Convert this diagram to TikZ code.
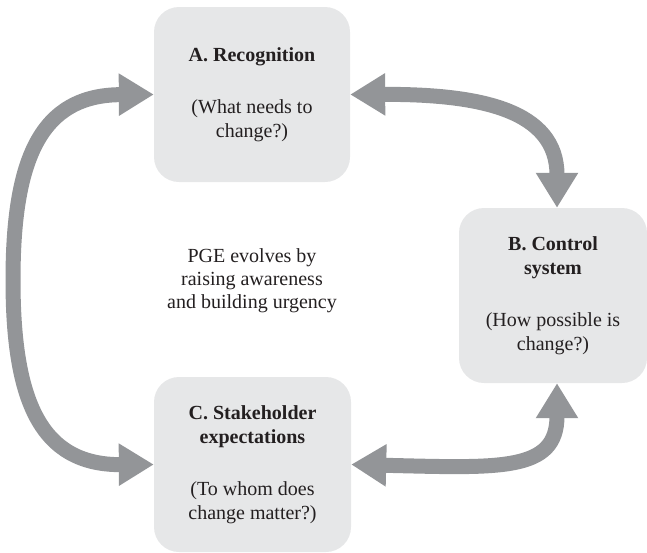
\documentclass[tikz,border=0pt]{standalone}
\usepackage{fontspec}
\setmainfont{Liberation Serif}
\usetikzlibrary{arrows.meta}
\definecolor{boxfill}{HTML}{E6E7E8}
\definecolor{arrowgray}{HTML}{939598}
\definecolor{txt}{HTML}{231F20}
\begin{document}
\begin{tikzpicture}[x=1pt,y=-1pt,
  stage/.style={draw=none, fill=boxfill, rounded corners=25pt, minimum height=175pt,
    align=center, text=txt, font=\fontsize{20}{24}\selectfont, inner sep=0pt},
  midtext/.style={align=center, text=txt, font=\fontsize{20}{23}\selectfont, inner sep=0pt},
  bigarrow/.style={draw=arrowgray, line width=15pt,
    {Triangle[width=40pt,length=35pt]}-{Triangle[width=40pt,length=35pt]}}]
\useasboundingbox (0,0) rectangle (647,552);
\node[stage, minimum width=196pt] (A) at (252,94.5)
  {\textbf{A. Recognition}\\[28pt](What needs to\\change?)};
\node[stage, minimum width=188pt] (B) at (553,295.5)
  {\textbf{B. Control}\\\textbf{system}\\[28pt](How possible is\\change?)};
\node[stage, minimum width=197pt] (C) at (252.5,464.5)
  {\textbf{C. Stakeholder}\\\textbf{expectations}\\[28pt](To whom does\\change matter?)};
\node[midtext] (M) at (252,281) {PGE evolves by\\raising awareness\\and building urgency};
\draw[bigarrow] (A.west) .. controls (40,95) and (13,160) .. (13,280)
  .. controls (13,400) and (40,465) .. (C.west);
\draw[bigarrow] (A.east) .. controls (480,94) and (557,110) .. ([xshift=4pt]B.north);
\draw[bigarrow] (C.east) .. controls (500,468) and (557,472) .. ([xshift=4pt]B.south);
\end{tikzpicture}
\end{document}
